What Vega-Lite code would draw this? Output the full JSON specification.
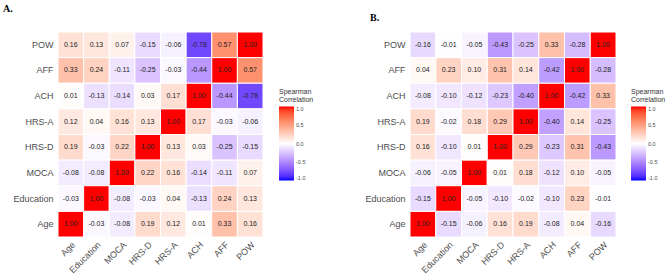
{
  "$schema": "https://vega.github.io/schema/vega-lite/v6.json",
  "background": "white",
  "padding": {"left": 2, "top": 3, "right": 0, "bottom": 0},
  "spacing": 50,
  "config": {
    "view": {"stroke": null},
    "font": "Liberation Sans",
    "locale": {"number": {"decimal": ".", "thousands": ",", "grouping": [3], "currency": ["$", ""], "minus": "-"}},
    "axis": {"domain": false, "ticks": false, "grid": false, "labelColor": "#4d4d4d", "labelFontSize": 9, "title": null},
    "title": {"font": "Liberation Serif", "fontSize": 10, "fontWeight": "bold", "anchor": "start", "color": "black"},
    "legend": {
      "orient": "none", "legendX": 221, "legendY": 56, "direction": "vertical", "padding": 0,
      "gradientLength": 74, "gradientThickness": 15, "gradientStrokeWidth": 0,
      "titleFontSize": 7, "titleLineHeight": 7.5, "titleFontWeight": "normal", "titleColor": "#333", "titleLimit": 100, "titlePadding": 4,
      "labelFontSize": 5.5, "labelColor": "#4d4d4d", "labelOffset": 5
    }
  },
  "resolve": {"scale": {"color": "independent"}},
  "datasets": {
    "a": [
      {"y":"POW","x":"Age","v":0.16},{"y":"POW","x":"Education","v":0.13},{"y":"POW","x":"MOCA","v":0.07},{"y":"POW","x":"HRS-D","v":-0.15},{"y":"POW","x":"HRS-A","v":-0.06},{"y":"POW","x":"ACH","v":-0.78},{"y":"POW","x":"AFF","v":0.57},{"y":"POW","x":"POW","v":1.00},
      {"y":"AFF","x":"Age","v":0.33},{"y":"AFF","x":"Education","v":0.24},{"y":"AFF","x":"MOCA","v":-0.11},{"y":"AFF","x":"HRS-D","v":-0.25},{"y":"AFF","x":"HRS-A","v":-0.03},{"y":"AFF","x":"ACH","v":-0.44},{"y":"AFF","x":"AFF","v":1.00},{"y":"AFF","x":"POW","v":0.57},
      {"y":"ACH","x":"Age","v":0.01},{"y":"ACH","x":"Education","v":-0.13},{"y":"ACH","x":"MOCA","v":-0.14},{"y":"ACH","x":"HRS-D","v":0.03},{"y":"ACH","x":"HRS-A","v":0.17},{"y":"ACH","x":"ACH","v":1.00},{"y":"ACH","x":"AFF","v":-0.44},{"y":"ACH","x":"POW","v":-0.78},
      {"y":"HRS-A","x":"Age","v":0.12},{"y":"HRS-A","x":"Education","v":0.04},{"y":"HRS-A","x":"MOCA","v":0.16},{"y":"HRS-A","x":"HRS-D","v":0.13},{"y":"HRS-A","x":"HRS-A","v":1.00},{"y":"HRS-A","x":"ACH","v":0.17},{"y":"HRS-A","x":"AFF","v":-0.03},{"y":"HRS-A","x":"POW","v":-0.06},
      {"y":"HRS-D","x":"Age","v":0.19},{"y":"HRS-D","x":"Education","v":-0.03},{"y":"HRS-D","x":"MOCA","v":0.22},{"y":"HRS-D","x":"HRS-D","v":1.00},{"y":"HRS-D","x":"HRS-A","v":0.13},{"y":"HRS-D","x":"ACH","v":0.03},{"y":"HRS-D","x":"AFF","v":-0.25},{"y":"HRS-D","x":"POW","v":-0.15},
      {"y":"MOCA","x":"Age","v":-0.08},{"y":"MOCA","x":"Education","v":-0.08},{"y":"MOCA","x":"MOCA","v":1.00},{"y":"MOCA","x":"HRS-D","v":0.22},{"y":"MOCA","x":"HRS-A","v":0.16},{"y":"MOCA","x":"ACH","v":-0.14},{"y":"MOCA","x":"AFF","v":-0.11},{"y":"MOCA","x":"POW","v":0.07},
      {"y":"Education","x":"Age","v":-0.03},{"y":"Education","x":"Education","v":1.00},{"y":"Education","x":"MOCA","v":-0.08},{"y":"Education","x":"HRS-D","v":-0.03},{"y":"Education","x":"HRS-A","v":0.04},{"y":"Education","x":"ACH","v":-0.13},{"y":"Education","x":"AFF","v":0.24},{"y":"Education","x":"POW","v":0.13},
      {"y":"Age","x":"Age","v":1.00},{"y":"Age","x":"Education","v":-0.03},{"y":"Age","x":"MOCA","v":-0.08},{"y":"Age","x":"HRS-D","v":0.19},{"y":"Age","x":"HRS-A","v":0.12},{"y":"Age","x":"ACH","v":0.01},{"y":"Age","x":"AFF","v":0.33},{"y":"Age","x":"POW","v":0.16}
    ],
    "b": [
      {"y":"POW","x":"Age","v":-0.16},{"y":"POW","x":"Education","v":-0.01},{"y":"POW","x":"MOCA","v":-0.05},{"y":"POW","x":"HRS-D","v":-0.43},{"y":"POW","x":"HRS-A","v":-0.25},{"y":"POW","x":"ACH","v":0.33},{"y":"POW","x":"AFF","v":-0.28},{"y":"POW","x":"POW","v":1.00},
      {"y":"AFF","x":"Age","v":0.04},{"y":"AFF","x":"Education","v":0.23},{"y":"AFF","x":"MOCA","v":0.10},{"y":"AFF","x":"HRS-D","v":0.31},{"y":"AFF","x":"HRS-A","v":0.14},{"y":"AFF","x":"ACH","v":-0.42},{"y":"AFF","x":"AFF","v":1.00},{"y":"AFF","x":"POW","v":-0.28},
      {"y":"ACH","x":"Age","v":-0.08},{"y":"ACH","x":"Education","v":-0.10},{"y":"ACH","x":"MOCA","v":-0.12},{"y":"ACH","x":"HRS-D","v":-0.23},{"y":"ACH","x":"HRS-A","v":-0.40},{"y":"ACH","x":"ACH","v":1.00},{"y":"ACH","x":"AFF","v":-0.42},{"y":"ACH","x":"POW","v":0.33},
      {"y":"HRS-A","x":"Age","v":0.19},{"y":"HRS-A","x":"Education","v":-0.02},{"y":"HRS-A","x":"MOCA","v":0.18},{"y":"HRS-A","x":"HRS-D","v":0.29},{"y":"HRS-A","x":"HRS-A","v":1.00},{"y":"HRS-A","x":"ACH","v":-0.40},{"y":"HRS-A","x":"AFF","v":0.14},{"y":"HRS-A","x":"POW","v":-0.25},
      {"y":"HRS-D","x":"Age","v":0.16},{"y":"HRS-D","x":"Education","v":-0.10},{"y":"HRS-D","x":"MOCA","v":0.01},{"y":"HRS-D","x":"HRS-D","v":1.00},{"y":"HRS-D","x":"HRS-A","v":0.29},{"y":"HRS-D","x":"ACH","v":-0.23},{"y":"HRS-D","x":"AFF","v":0.31},{"y":"HRS-D","x":"POW","v":-0.43},
      {"y":"MOCA","x":"Age","v":-0.06},{"y":"MOCA","x":"Education","v":-0.05},{"y":"MOCA","x":"MOCA","v":1.00},{"y":"MOCA","x":"HRS-D","v":0.01},{"y":"MOCA","x":"HRS-A","v":0.18},{"y":"MOCA","x":"ACH","v":-0.12},{"y":"MOCA","x":"AFF","v":0.10},{"y":"MOCA","x":"POW","v":-0.05},
      {"y":"Education","x":"Age","v":-0.15},{"y":"Education","x":"Education","v":1.00},{"y":"Education","x":"MOCA","v":-0.05},{"y":"Education","x":"HRS-D","v":-0.10},{"y":"Education","x":"HRS-A","v":-0.02},{"y":"Education","x":"ACH","v":-0.10},{"y":"Education","x":"AFF","v":0.23},{"y":"Education","x":"POW","v":-0.01},
      {"y":"Age","x":"Age","v":1.00},{"y":"Age","x":"Education","v":-0.15},{"y":"Age","x":"MOCA","v":-0.06},{"y":"Age","x":"HRS-D","v":0.16},{"y":"Age","x":"HRS-A","v":0.19},{"y":"Age","x":"ACH","v":-0.08},{"y":"Age","x":"AFF","v":0.04},{"y":"Age","x":"POW","v":-0.16}
    ]
  },
  "hconcat": [
    {
      "title": {"text": "A.", "dx": -10, "offset": 18},
      "width": 205, "height": 205,
      "data": {"name": "a"},
      "encoding": {
        "x": {"field": "x", "type": "nominal", "sort": ["Age","Education","MOCA","HRS-D","HRS-A","ACH","AFF","POW"], "axis": {"labelAngle": -45, "labelPadding": 3}},
        "y": {"field": "y", "type": "nominal", "sort": ["POW","AFF","ACH","HRS-A","HRS-D","MOCA","Education","Age"], "axis": {"labelPadding": 5}}
      },
      "layer": [
        {
          "mark": {"type": "rect", "stroke": "white", "strokeWidth": 1},
          "encoding": {
            "color": {"field": "v", "type": "quantitative", "scale": {"domain": [-1, 0, 1], "range": ["#0000ff", "#ffffff", "#ff0000"], "interpolate": "lab"},
              "legend": {"title": ["Spearman", "Correlation"], "values": [-1, -0.5, 0, 0.5, 1], "format": ".1f"}}
          }
        },
        {
          "mark": {"type": "text", "fontSize": 7, "color": "#222"},
          "encoding": {"text": {"field": "v", "type": "quantitative", "format": ".2f"}}
        }
      ]
    },
    {
      "title": {"text": "B.", "dx": 5, "offset": 9},
      "width": 206, "height": 205,
      "data": {"name": "b"},
      "encoding": {
        "x": {"field": "x", "type": "nominal", "sort": ["Age","Education","MOCA","HRS-D","HRS-A","ACH","AFF","POW"], "axis": {"labelAngle": -45, "labelPadding": 3}},
        "y": {"field": "y", "type": "nominal", "sort": ["POW","AFF","ACH","HRS-A","HRS-D","MOCA","Education","Age"], "axis": {"labelPadding": 5}}
      },
      "layer": [
        {
          "mark": {"type": "rect", "stroke": "white", "strokeWidth": 1},
          "encoding": {
            "color": {"field": "v", "type": "quantitative", "scale": {"domain": [-1, 0, 1], "range": ["#0000ff", "#ffffff", "#ff0000"], "interpolate": "lab"},
              "legend": {"title": ["Spearman", "Correlation"], "values": [-1, -0.5, 0, 0.5, 1], "format": ".1f"}}
          }
        },
        {
          "mark": {"type": "text", "fontSize": 7, "color": "#222"},
          "encoding": {"text": {"field": "v", "type": "quantitative", "format": ".2f"}}
        }
      ]
    }
  ]
}
